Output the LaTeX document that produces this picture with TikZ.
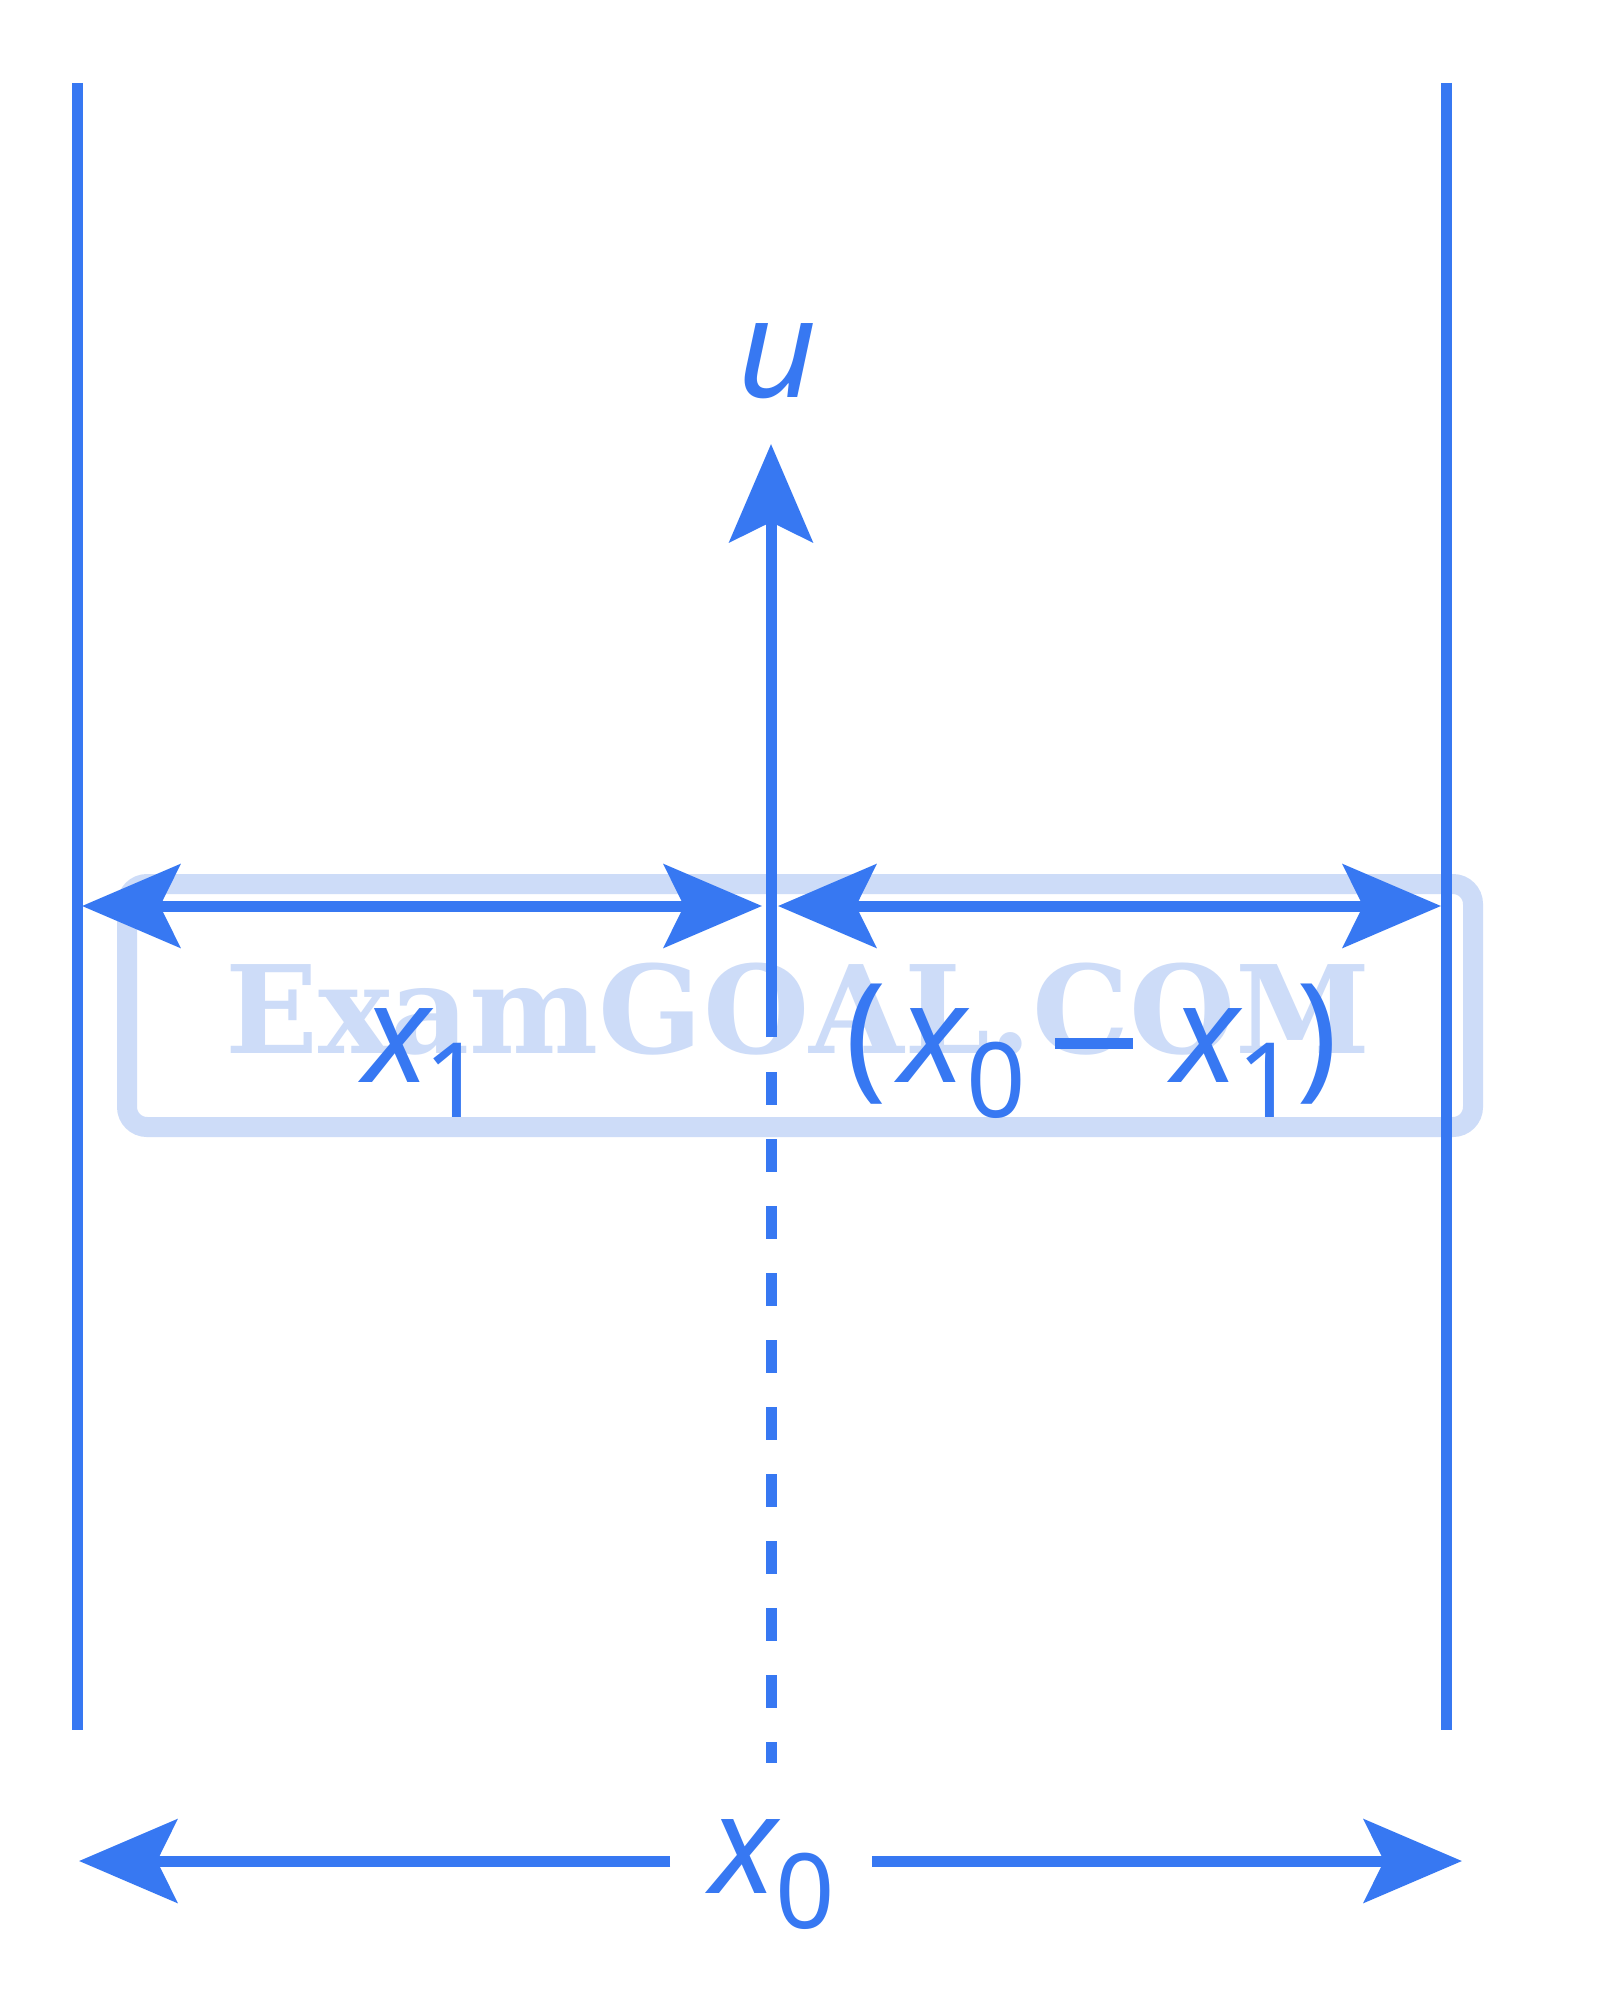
\documentclass[tikz,border=0pt]{standalone}
\usepackage{fontspec}
\setmainfont{Noto Sans}
\newfontfamily\wmfont{DejaVu Serif}
\usetikzlibrary{arrows.meta}
\definecolor{dblue}{RGB}{55,120,242}
\definecolor{wmblue}{RGB}{205,220,248}
\newcommand{\mainsz}{\fontsize{69pt}{80pt}\selectfont}
\newcommand{\sbs}[1]{\raisebox{-17.5pt}{\upshape\fontsize{52pt}{60pt}\selectfont #1}}
\newcommand{\mminus}{\rule[16.5pt]{39pt}{5.5pt}}
\tikzset{
  mytip/.tip={Stealth[length=49pt,width=41.5pt,inset=10pt]},
  bline/.style={draw=dblue,line width=5.5pt},
  lbl/.style={text=dblue,inner sep=0pt,anchor=base,font=\mainsz},
}
\begin{document}
\begin{tikzpicture}[x=0.5pt,y=-0.5pt]
\useasboundingbox (0,0) rectangle (1600,2012);
\fill[white] (0,0) rectangle (1600,2012);
% watermark
\draw[wmblue,line width=10pt,rounded corners=10pt] (127,884) rectangle (1473,1127);
\node[text=wmblue,inner sep=0pt,anchor=base,font=\wmfont\bfseries\fontsize{61pt}{70pt}\selectfont] (wm) at (798,1053) {ExamGOAL.COM};
% coordinates
\coordinate (lt) at (77,83);
\coordinate (lb) at (77,1730);
\coordinate (rt) at (1446,83);
\coordinate (rb) at (1446,1730);
\coordinate (ml) at (82,906);
\coordinate (mc1) at (762,906);
\coordinate (mc2) at (778,906);
\coordinate (mr) at (1441,906);
\coordinate (cbot) at (771,1037);
\coordinate (ctop) at (771,444);
\coordinate (dtop) at (771,1072);
\coordinate (dbot) at (771,1763);
\coordinate (bl) at (79,1861);
\coordinate (bl2) at (670,1861);
\coordinate (br2) at (872,1861);
\coordinate (br) at (1462,1861);
% lines
\draw[bline] (lt) -- (lb);
\draw[bline] (rt) -- (rb);
\draw[bline,mytip-mytip] (ml) -- (mc1);
\draw[bline,mytip-mytip] (mc2) -- (mr);
\draw[bline,-mytip] (cbot) -- (ctop);
\draw[bline,dash pattern=on 16.5pt off 17pt] (dtop) -- (dbot);
\draw[bline,-mytip] (bl2) -- (bl);
\draw[bline,-mytip] (br2) -- (br);
% labels
\node[lbl] (u) at (777,397) {\itshape u};
\node[lbl] (x1) at (424,1082) {\itshape x\hspace{-3pt}\sbs{1}};
\node[lbl] (x01) at (1092,1082) {(\hspace{6pt}\itshape x\sbs{0}\upshape\hspace{14.5pt}\mminus\hspace{20pt}\itshape x\hspace{-1pt}\sbs{1}\upshape)};
\node[lbl] (x0) at (773,1893) {\itshape x\hspace{-1pt}\sbs{0}};
\end{tikzpicture}
\end{document}
